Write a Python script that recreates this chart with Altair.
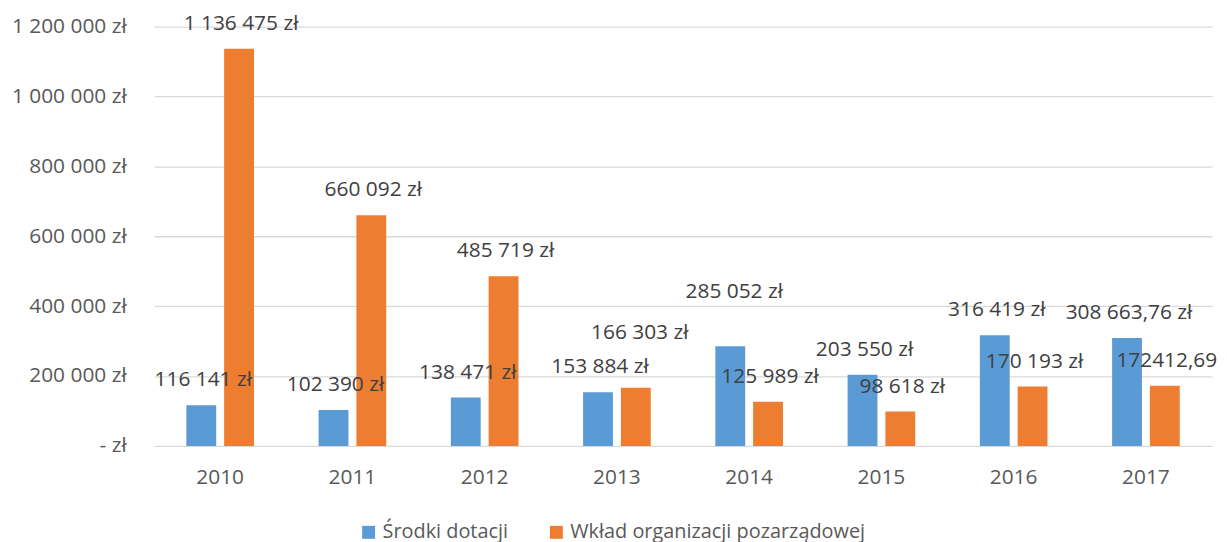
import altair as alt
import pandas as pd

years = ["2010", "2011", "2012", "2013", "2014", "2015", "2016", "2017"]
series = ["Środki dotacji", "Wkład organizacji pozarządowej"]
colors = ["#5B9BD5", "#ED7D31"]

dotacje = [116141, 102390, 138471, 153884, 285052, 203550, 316419, 308663.76]
wklad = [1136475, 660092, 485719, 166303, 125989, 98618, 170193, 172412.69]

dotacje_labels = ["116 141 zł", "102 390 zł", "138 471 zł", "153 884 zł",
                  "285 052 zł", "203 550 zł", "316 419 zł", "308 663,76 zł"]
wklad_labels = ["1 136 475 zł", "660 092 zł", "485 719 zł", "166 303 zł",
                "125 989 zł", "98 618 zł", "170 193 zł", "172412,69"]

y_ticks = [0, 200000, 400000, 600000, 800000, 1000000, 1200000]

# labels that Excel placed higher than the rest
raised = [("2013", series[1]), ("2014", series[0])]

rows = []
for i, yr in enumerate(years):
    rows.append({"year": yr, "series": series[0], "value": dotacje[i], "label": dotacje_labels[i]})
    rows.append({"year": yr, "series": series[1], "value": wklad[i], "label": wklad_labels[i]})
df = pd.DataFrame(rows)
df["raised"] = [(r.year, r.series) in raised for r in df.itertuples()]

FONT = "Open Sans"
AX_COLOR = "#595959"
FS = 21

x = alt.X("year:N", title=None, sort=years,
          scale=alt.Scale(paddingInner=0, paddingOuter=0),
          axis=alt.Axis(labelAngle=0, ticks=False, domain=False, grid=False,
                        labelPadding=21, labelFontSize=FS, labelFont=FONT,
                        labelColor=AX_COLOR))
xo = alt.XOffset("series:N", sort=series,
                 scale=alt.Scale(domain=series, paddingInner=0.21, paddingOuter=0.855))
y = alt.Y("value:Q", title=None,
          scale=alt.Scale(domain=[0, 1200000], nice=False),
          axis=alt.Axis(values=y_ticks, ticks=False, domain=False, grid=True,
                        gridColor="#D9D9D9", gridWidth=1.3,
                        labelPadding=28, labelFontSize=FS, labelFont=FONT,
                        labelColor=AX_COLOR,
                        labelExpr="datum.value == 0 ? '- zł' : replace(format(datum.value, ',d'), regexp(',', 'g'), ' ') + ' zł'"))

base = alt.Chart(df)

bars = base.mark_bar().encode(
    x=x, xOffset=xo, y=y,
    color=alt.Color("series:N", sort=series,
                    scale=alt.Scale(domain=series, range=colors),
                    legend=alt.Legend(title=None, orient="none", legendX=206, legendY=499,
                                      direction="horizontal", symbolType="square",
                                      symbolSize=169, symbolStrokeWidth=0,
                                      labelFontSize=20, labelFont=FONT, labelColor=AX_COLOR,
                                      labelLimit=0, labelOffset=4, columnPadding=38,
                                      padding=0)),
)

labels_normal = base.transform_filter("!datum.raised").mark_text(
    dy=-25, dx=2, fontSize=FS, font=FONT, color="#404040"
).encode(x=x, xOffset=xo, y=y, text="label:N")

labels_raised = base.transform_filter("datum.raised").mark_text(
    dy=-55, dx=4, fontSize=FS, font=FONT, color="#404040"
).encode(x=x, xOffset=xo, y=y, text="label:N")

chart = alt.layer(bars, labels_normal, labels_raised).properties(
    width=1065, height=422,
    autosize=alt.AutoSizeParams(type="none"),
    padding={"left": 147, "top": 17, "right": 7, "bottom": 100},
).configure_view(stroke=None)

chart.save("out.html", embed_options={"renderer": "svg", "actions": False})
